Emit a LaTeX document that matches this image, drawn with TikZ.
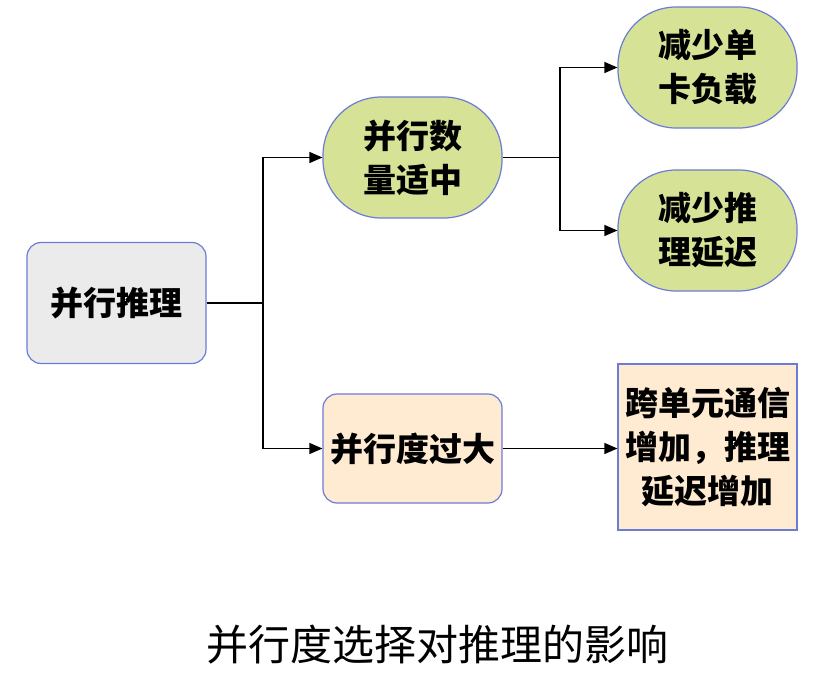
\documentclass[tikz,border=0pt]{standalone}
\usepackage{fontspec}
\setmainfont{Noto Sans CJK SC}
\usetikzlibrary{arrows.meta}
\definecolor{edgeblue}{RGB}{108,124,214}
\definecolor{rootgray}{RGB}{235,235,235}
\definecolor{goodgreen}{RGB}{214,227,150}
\definecolor{badpeach}{RGB}{255,235,209}
\def\BoxWidth{179}
\def\BoxHeight{121}
\def\TextSize{\fontsize{33}{44}\selectfont\bfseries}

\begin{document}
\begin{tikzpicture}[x=1pt,y=-1pt,
    box/.style={draw=edgeblue, line width=1.2pt, minimum width=\BoxWidth, minimum height=\BoxHeight,
      align=center, inner sep=0pt, font=\TextSize},
    arr/.style={line width=1.3pt, -{Triangle[length=13,width=11]}}]
  \useasboundingbox (0,0) rectangle (828,674);
  % nodes
  \node[box, fill=rootgray, rounded corners=14] (root) at (116.5,303) {并行推理};
  \node[box, fill=goodgreen, rounded corners=58] (mid) at (412.5,157.5) {并行数\\量适中};
  \node[box, fill=goodgreen, rounded corners=58] (load) at (707.5,67.5) {减少单\\卡负载};
  \node[box, fill=goodgreen, rounded corners=58] (lat) at (707.5,230.5) {减少推\\理延迟};
  \node[box, fill=badpeach, rounded corners=14, minimum height=109] (big) at (412.5,448.5) {并行度过大};
  \node[box, fill=badpeach, minimum height=166] (comm) at (707.5,447) {跨单元通信\\增加，推理\\延迟增加};
  % branch points
  \coordinate (J1) at (263,303);
  \coordinate (J2) at (560,157.5);
  % connectors
  \draw[line width=1.3pt] (root.east) -- (J1);
  \draw[arr] (J1) |- (mid.west);
  \draw[arr] (J1) |- (big.west);
  \draw[line width=1.3pt] (mid.east) -- (J2);
  \draw[arr] (J2) |- (load.west);
  \draw[arr] (J2) |- (lat.west);
  \draw[arr] (big.east) -- (big.east -| comm.west);
  % caption
  \node[font=\fontsize{42}{48}\selectfont] (caption) at (437.5,645) {并行度选择对推理的影响};
\end{tikzpicture}
\end{document}
